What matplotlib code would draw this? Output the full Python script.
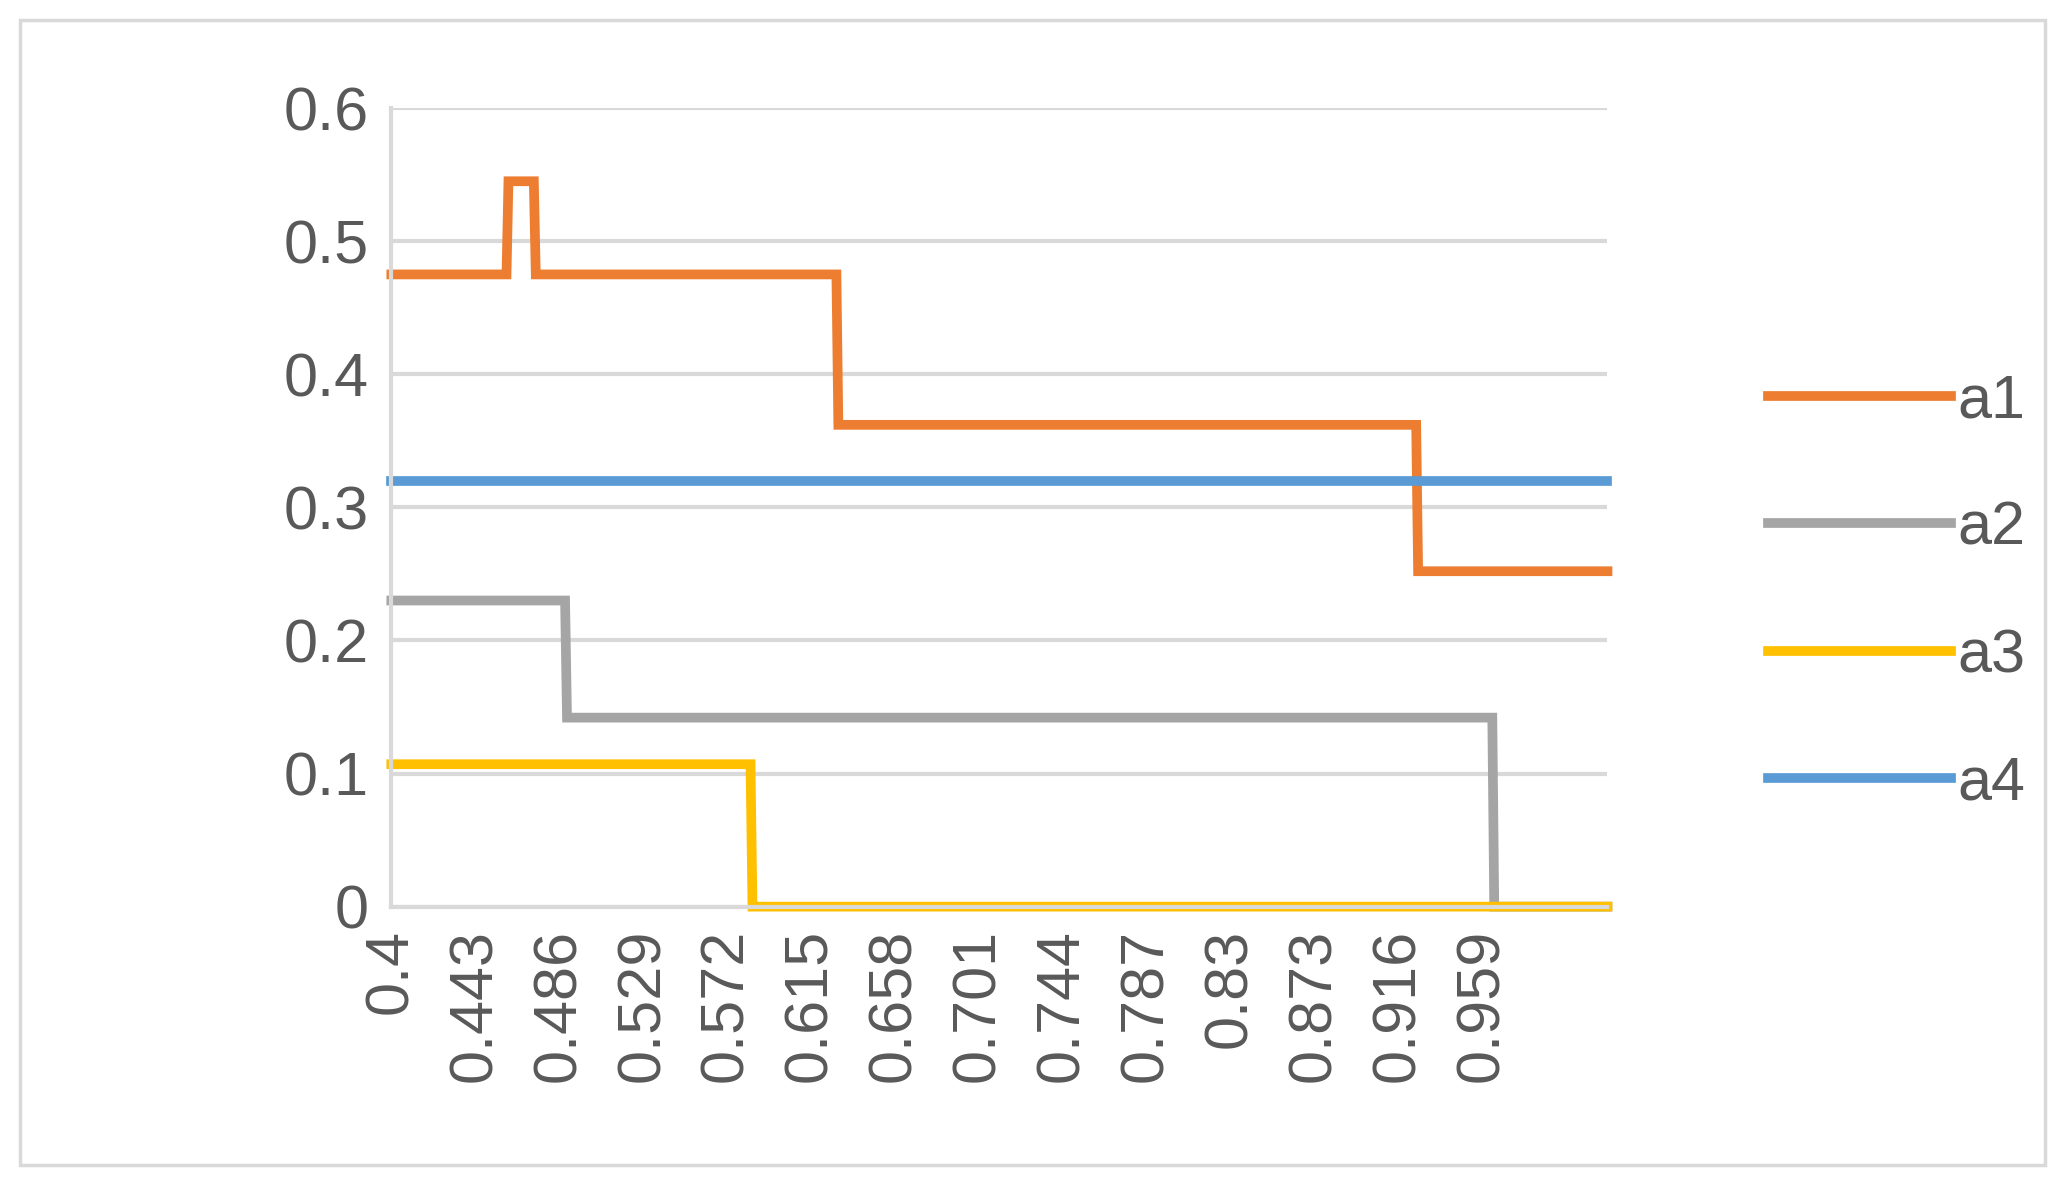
import numpy as np
import matplotlib
matplotlib.use("Agg")
import matplotlib.pyplot as plt
from matplotlib.patches import Rectangle

plt.rcParams['font.family'] = ['Liberation Sans Narrow', 'Liberation Sans', 'DejaVu Sans']

# categories 0.400 .. 1.023 step 0.001
categories = [round(0.4 + i * 0.001, 3) for i in range(624)]

# step series: (start_x, level) segments
a1_steps = [(0.400, 0.475), (0.460, 0.545), (0.474, 0.475), (0.629, 0.362), (0.926, 0.252)]
a2_steps = [(0.400, 0.230), (0.490, 0.142), (0.965, 0.0)]
a3_steps = [(0.400, 0.107), (0.585, 0.0)]
a4_steps = [(0.400, 0.320)]

series_names = ['a1', 'a2', 'a3', 'a4']
colors = ['#ED7D31', '#A5A5A5', '#FFC000', '#5B9BD5']

def build(steps):
    vals = []
    for c in categories:
        v = None
        for s, lv in steps:
            if c >= s - 1e-9:
                v = lv
        vals.append(v)
    return vals

fig = plt.figure(figsize=(20.66, 11.86), dpi=100)
fig.patches.append(Rectangle((15/1568, 1-884/900), (1552-15)/1568, (884-15)/900,
                             transform=fig.transFigure, fill=False, ec='#D9D9D9', lw=2.5))
ax = fig.add_axes([297/1568, 1-688/900, (1220-297)/1568, (688-82)/900])
x = np.arange(len(categories))
for name, st, col in zip(series_names, [a1_steps, a2_steps, a3_steps, a4_steps], colors):
    ax.plot(x, build(st), color=col, lw=7, label=name, solid_joinstyle='miter', clip_on=False)

ax.set_xlim(0, len(categories) - 1)
ax.set_ylim(0, 0.6)
ax.set_yticks(np.arange(0, 0.61, 0.1))
ax.set_yticklabels(['0', '0.1', '0.2', '0.3', '0.4', '0.5', '0.6'])
ticks = list(range(0, 601, 43))[:14]
ax.set_xticks(ticks)
ax.set_xticklabels([f"{categories[t]:g}" for t in ticks], rotation=90)
ax.tick_params(axis='both', length=0, labelsize=44, colors='#595959', pad=16)
ax.grid(axis='y', color='#D9D9D9', lw=3)
ax.set_axisbelow(True)
for s in ['top', 'right']:
    ax.spines[s].set_visible(False)
ax.spines['left'].set_color('#D9D9D9'); ax.spines['left'].set_linewidth(3)
ax.spines['bottom'].set_color('#D9D9D9'); ax.spines['bottom'].set_linewidth(3)
leg = fig.legend(loc='center left', bbox_to_anchor=(1300/1568, 1-450/900), frameon=False,
                 fontsize=44, labelcolor='#595959', handlelength=3.0, labelspacing=1.15,
                 handletextpad=0.1)
fig.savefig('out.png', dpi=100)
